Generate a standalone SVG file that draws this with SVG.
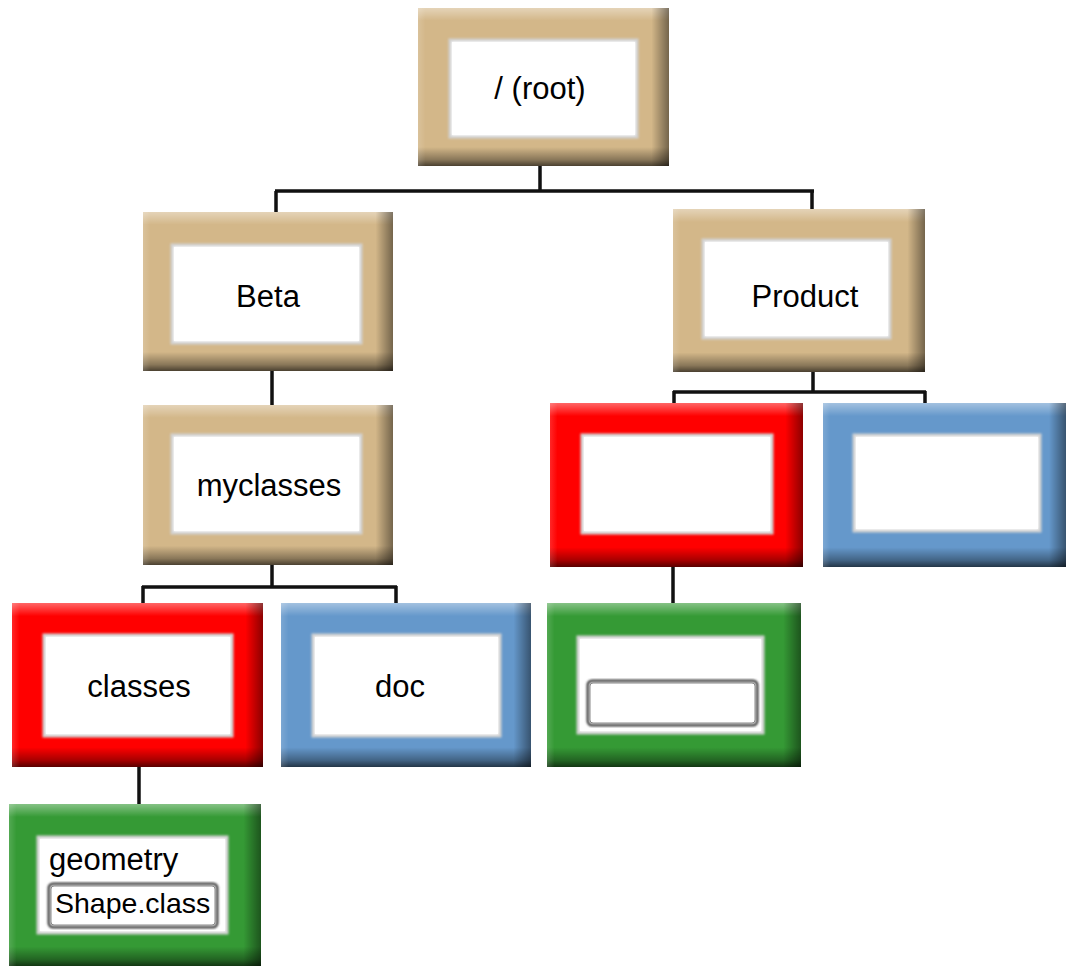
<svg xmlns="http://www.w3.org/2000/svg" width="1066" height="966" viewBox="0 0 1066 966">
<defs>
<linearGradient id="gv" x1="0" y1="0" x2="0" y2="1">
<stop offset="0" stop-color="#fff" stop-opacity="0.4"/>
<stop offset="0.08" stop-color="#fff" stop-opacity="0"/>
<stop offset="0.88" stop-color="#000" stop-opacity="0"/>
<stop offset="0.96" stop-color="#000" stop-opacity="0.35"/>
<stop offset="1" stop-color="#000" stop-opacity="0.65"/>
</linearGradient>
<linearGradient id="gh" x1="0" y1="0" x2="1" y2="0">
<stop offset="0" stop-color="#fff" stop-opacity="0.15"/>
<stop offset="0.03" stop-color="#fff" stop-opacity="0"/>
<stop offset="0.93" stop-color="#000" stop-opacity="0"/>
<stop offset="1" stop-color="#000" stop-opacity="0.45"/>
</linearGradient>
<filter id="soft" x="-5%" y="-5%" width="110%" height="110%">
<feGaussianBlur stdDeviation="1.2"/>
</filter>
</defs>
<style>
.tan{fill:#d3b789}
.red{fill:#ff0000}
.blue{fill:#6598cb}
.green{fill:#359a35}
.sv{fill:url(#gv)}
.sh{fill:url(#gh)}
.in{fill:#ffffff;stroke:#d2d2d2;stroke-width:3}
.box{fill:#ffffff;stroke:#444;stroke-width:3}
.lbl{font-family:"Liberation Sans",Arial,sans-serif;font-size:31px;fill:#000}
.con{stroke:#111;stroke-width:3.5;fill:none}
</style>
<g id="connectors" class="con">
<path d="M540,166 V191 M275,191 H814 M276,191 V212 M812,191 V209"/>
<path d="M272,371 V405"/>
<path d="M272,565 V587 M142,587 H397 M143,586 V603 M396,586 V603"/>
<path d="M813,372 V392 M673,392 H926 M674,391 V403 M925,391 V403"/>
<path d="M673,567 V603"/>
<path d="M139,767 V804"/>
</g>
<g id="root">
<rect class="tan" x="418" y="8" width="251" height="158"/>
<rect class="sv" x="418" y="8" width="251" height="158"/>
<rect class="sh" x="418" y="8" width="251" height="158"/>
<rect class="in" x="450" y="40" width="187" height="97" filter="url(#soft)"/>
<rect fill="#fff" x="452" y="42" width="183" height="93"/>
<text class="lbl" x="540" y="99" text-anchor="middle">/ (root)</text>
</g>
<g id="beta">
<rect class="tan" x="143" y="212" width="250" height="159"/>
<rect class="sv" x="143" y="212" width="250" height="159"/>
<rect class="sh" x="143" y="212" width="250" height="159"/>
<rect class="in" x="172" y="245" width="189" height="98" filter="url(#soft)"/>
<rect fill="#fff" x="174" y="247" width="185" height="94"/>
<text class="lbl" x="268" y="307" text-anchor="middle">Beta</text>
</g>
<g id="product">
<rect class="tan" x="673" y="209" width="252" height="163"/>
<rect class="sv" x="673" y="209" width="252" height="163"/>
<rect class="sh" x="673" y="209" width="252" height="163"/>
<rect class="in" x="703" y="240" width="187" height="98" filter="url(#soft)"/>
<rect fill="#fff" x="705" y="242" width="183" height="94"/>
<text class="lbl" x="805" y="307" text-anchor="middle">Product</text>
</g>
<g id="myclasses">
<rect class="tan" x="143" y="405" width="250" height="160"/>
<rect class="sv" x="143" y="405" width="250" height="160"/>
<rect class="sh" x="143" y="405" width="250" height="160"/>
<rect class="in" x="172" y="435" width="189" height="98" filter="url(#soft)"/>
<rect fill="#fff" x="174" y="437" width="185" height="94"/>
<text class="lbl" x="269" y="496" text-anchor="middle">myclasses</text>
</g>
<g id="classes">
<rect class="red" x="12" y="603" width="251" height="164"/>
<rect class="sv" x="12" y="603" width="251" height="164"/>
<rect class="sh" x="12" y="603" width="251" height="164"/>
<rect class="in" x="44" y="635" width="188" height="101" filter="url(#soft)"/>
<rect fill="#fff" x="46" y="637" width="184" height="97"/>
<text class="lbl" x="139" y="697" text-anchor="middle">classes</text>
</g>
<g id="doc">
<rect class="blue" x="281" y="603" width="250" height="164"/>
<rect class="sv" x="281" y="603" width="250" height="164"/>
<rect class="sh" x="281" y="603" width="250" height="164"/>
<rect class="in" x="313" y="635" width="187" height="101" filter="url(#soft)"/>
<rect fill="#fff" x="315" y="637" width="183" height="97"/>
<text class="lbl" x="400" y="697" text-anchor="middle">doc</text>
</g>
<g id="red-empty">
<rect class="red" x="550" y="403" width="253" height="164"/>
<rect class="sv" x="550" y="403" width="253" height="164"/>
<rect class="sh" x="550" y="403" width="253" height="164"/>
<rect class="in" x="582" y="435" width="190" height="98" filter="url(#soft)"/>
<rect fill="#fff" x="584" y="437" width="186" height="94"/>
</g>
<g id="blue-empty">
<rect class="blue" x="823" y="403" width="243" height="164"/>
<rect class="sv" x="823" y="403" width="243" height="164"/>
<rect class="sh" x="823" y="403" width="243" height="164"/>
<rect class="in" x="854" y="435" width="186" height="96" filter="url(#soft)"/>
<rect fill="#fff" x="856" y="437" width="182" height="92"/>
</g>
<g id="green-empty">
<rect class="green" x="547" y="603" width="254" height="164"/>
<rect class="sv" x="547" y="603" width="254" height="164"/>
<rect class="sh" x="547" y="603" width="254" height="164"/>
<rect class="in" x="578" y="637" width="185" height="96" filter="url(#soft)"/>
<rect fill="#fff" x="580" y="639" width="181" height="92"/>
<rect class="box" x="588" y="681" width="169" height="44" rx="4" filter="url(#soft)"/>
<rect fill="#fff" stroke="#888" stroke-width="1" x="590" y="683" width="165" height="40" rx="3"/>
</g>
<g id="geometry">
<rect class="green" x="9" y="804" width="252" height="162"/>
<rect class="sv" x="9" y="804" width="252" height="162"/>
<rect class="sh" x="9" y="804" width="252" height="162"/>
<rect class="in" x="38" y="837" width="189" height="96" filter="url(#soft)"/>
<rect fill="#fff" x="40" y="839" width="185" height="92"/>
<text class="lbl" x="49" y="870">geometry</text>
<rect class="box" x="49" y="884" width="168" height="43" rx="4" filter="url(#soft)"/>
<rect fill="#fff" stroke="#888" stroke-width="1" x="51" y="886" width="164" height="39" rx="3"/>
<text class="lbl" x="55" y="913" style="font-size:28.5px">Shape.class</text>
</g>
</svg>
